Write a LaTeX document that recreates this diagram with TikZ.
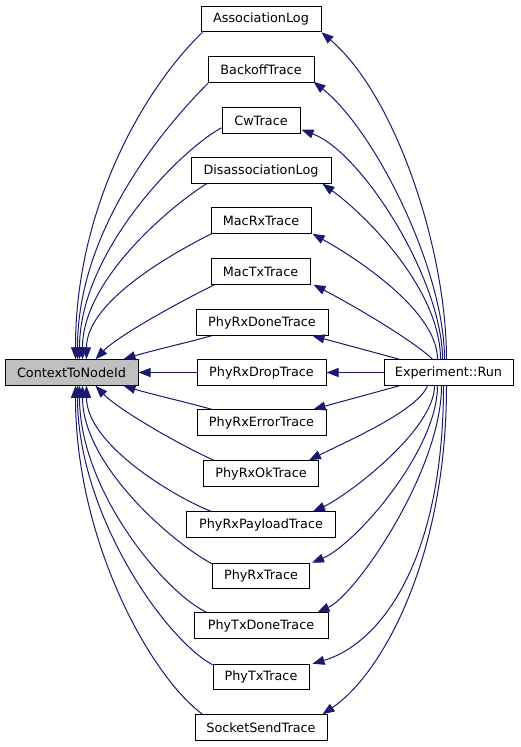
\documentclass[tikz,border=0pt]{standalone}
\usepackage{fontspec}
\setmainfont{DejaVu Sans}
\usetikzlibrary{arrows.meta,calc}
\definecolor{edgeblue}{HTML}{191970}
\definecolor{rootgray}{HTML}{BFBFBF}
\begin{document}
\begin{tikzpicture}[x=1pt,y=-1pt,
  fn/.style={draw=black,line width=1pt,fill=white,minimum height=25.5pt,inner sep=0pt,
    font=\fontsize{12.8}{14}\selectfont,anchor=center},
  edge/.style={draw=edgeblue,line width=1pt,-{Triangle[length=12pt,width=9pt]}}]
\useasboundingbox (0,0) rectangle (520,747);
% nodes
\node[fn,fill=rootgray,minimum width=133pt] (c) at (71.5,372.5) {ContextToNodeId};
\node[fn,minimum width=129pt] (r) at (448.5,372.5) {Experiment::Run};
\node[fn,minimum width=120pt] (n0) at (261,19) {AssociationLog};
\node[fn,minimum width=106pt] (n1) at (261,69.5) {BackoffTrace};
\node[fn,minimum width=78pt] (n2) at (261,120.5) {CwTrace};
\node[fn,minimum width=140pt] (n3) at (261,170.5) {DisassociationLog};
\node[fn,minimum width=100pt] (n4) at (261,220.5) {MacRxTrace};
\node[fn,minimum width=99pt] (n5) at (260.5,271.5) {MacTxTrace};
\node[fn,minimum width=132pt] (n6) at (262,322.5) {PhyRxDoneTrace};
\node[fn,minimum width=129pt] (n7) at (261.5,372.5) {PhyRxDropTrace};
\node[fn,minimum width=129pt] (n8) at (261.5,422.5) {PhyRxErrorTrace};
\node[fn,minimum width=115pt] (n9) at (261,473.5) {PhyRxOkTrace};
\node[fn,minimum width=149pt] (n10) at (261,524.5) {PhyRxPayloadTrace};
\node[fn,minimum width=97pt] (n11) at (261,576) {PhyRxTrace};
\node[fn,minimum width=134pt] (n12) at (261,625.5) {PhyTxDoneTrace};
\node[fn,minimum width=96pt] (n13) at (261,677) {PhyTxTrace};
\node[fn,minimum width=132pt] (n14) at (261,727.5) {SocketSendTrace};
% left edges: trace -> ContextToNodeId
\draw[edge] ($(n0.south west)+(2,0)$) .. controls +(-60,58) and +(0,-150) .. ($(c.north west)+(71,0)$);
\draw[edge] ($(n1.south west)+(1,0)$) .. controls +(-47,47) and +(0,-128) .. ($(c.north west)+(73,0)$);
\draw[edge] ($(n2.south west)+(0,-6)$) .. controls +(-45,25) and +(0,-105) .. ($(c.north west)+(75,0)$);
\draw[edge] ($(n3.south west)+(16,0)$) .. controls +(-35,22) and +(0,-80) .. ($(c.north west)+(78,0)$);
\draw[edge] ($(n4.south west)+(1,0)$) .. controls +(-30,15) and +(0,-60) .. ($(c.north west)+(82,0)$);
\draw[edge] ($(n5.south west)+(4,0)$) .. controls +(-25,12) and +(24,-25) .. ($(c.north west)+(91,0)$);
\draw[edge] ($(n6.south west)+(16,0)$) .. controls +(-25,7) and +(26,-8) .. ($(c.north west)+(119,0)$);
\draw[edge] (n7.west) -- (c.east);
\draw[edge] ($(n8.north west)+(15,0)$) .. controls +(-25,-7) and +(26,8) .. ($(c.south west)+(119,0)$);
\draw[edge] ($(n9.north west)+(11,0)$) .. controls +(-28,-12) and +(24,25) .. ($(c.south west)+(91,0)$);
\draw[edge] ($(n10.north west)+(25,0)$) .. controls +(-32,-12) and +(0,60) .. ($(c.south west)+(82,0)$);
\draw[edge] ($(n11.north west)+(0,1)$) .. controls +(-38,-20) and +(0,80) .. ($(c.south west)+(78,0)$);
\draw[edge] ($(n12.north west)+(13,0)$) .. controls +(-42,-20) and +(0,105) .. ($(c.south west)+(75,0)$);
\draw[edge] ($(n13.north west)+(0,1)$) .. controls +(-48,-26) and +(0,128) .. ($(c.south west)+(73,0)$);
\draw[edge] ($(n14.north west)+(8,0)$) .. controls +(-52,-38) and +(0,155) .. ($(c.south west)+(71,0)$);
% right edges: Experiment::Run -> trace
\draw[edge] ($(r.north west)+(63,0)$) .. controls +(0,-110) and +(74,63) .. (n0.south east);
\draw[edge] ($(r.north west)+(61,0)$) .. controls +(0,-90) and +(61,48) .. ($(n1.south east)+(-1,-1)$);
\draw[edge] ($(r.north west)+(59,0)$) .. controls +(0,-80) and +(60,22) .. ($(n2.south east)+(1,-4)$);
\draw[edge] ($(r.north west)+(57,0)$) .. controls +(0,-70) and +(43,31) .. ($(n3.south east)+(-9,0)$);
\draw[edge] ($(r.north west)+(54,0)$) .. controls +(0,-50) and +(38,21) .. ($(n4.south east)+(1,0)$);
\draw[edge] ($(r.north west)+(49,0)$) .. controls +(-18,-18) and +(37,19) .. ($(n5.south east)+(3,0)$);
\draw[edge] ($(r.north west)+(16,0)$) -- ($(n6.south east)+(-16,0)$);
\draw[edge] (r.west) -- (n7.east);
\draw[edge] ($(r.south west)+(16,0)$) -- ($(n8.north east)+(-13,0)$);
\draw[edge] ($(r.south west)+(44,0)$) .. controls +(-10,25) and +(40,-20) .. ($(n9.north east)+(-10,0)$);
\draw[edge] ($(r.south west)+(51,0)$) .. controls +(0,45) and +(32,-14) .. ($(n10.north east)+(-23,0)$);
\draw[edge] ($(r.south west)+(54,0)$) .. controls +(0,65) and +(43,-18) .. ($(n11.north east)+(2,0)$);
\draw[edge] ($(r.south west)+(58,0)$) .. controls +(0,85) and +(38,-17) .. ($(n12.north east)+(-11,0)$);
\draw[edge] ($(r.south west)+(60,0)$) .. controls +(0,175) and +(68,-20) .. ($(n13.north east)+(3,0)$);
\draw[edge] ($(r.south west)+(63,0)$) .. controls +(0,175) and +(58,-39) .. ($(n14.north east)+(-5,0)$);
\end{tikzpicture}
\end{document}
